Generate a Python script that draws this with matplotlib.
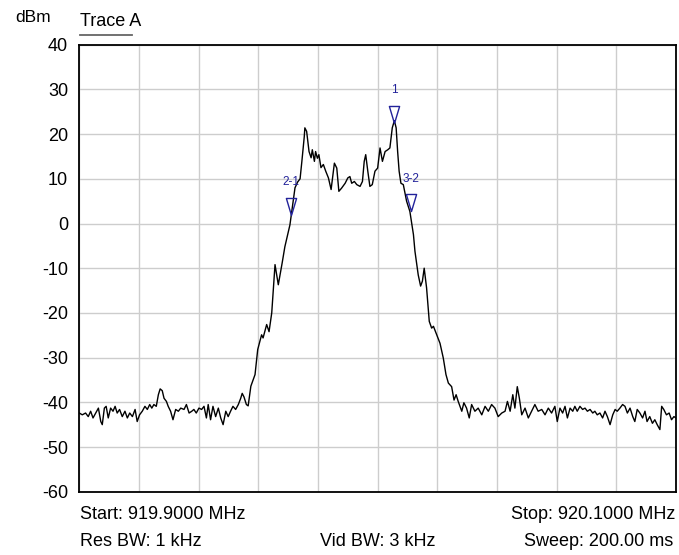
import matplotlib
matplotlib.use("Agg")
import matplotlib.pyplot as plt
from matplotlib.path import Path
import numpy as np

plt.rcParams['font.family'] = ['Liberation Sans', 'DejaVu Sans']

# ---- data ----
start_mhz = 919.9
stop_mhz = 920.1
offset_khz = [
    0.0, 1.0, 2.1, 3.0, 3.8, 4.6, 5.5, 6.4, 7.2, 7.7, 8.4, 9.0, 9.7, 10.5, 11.3, 12.0,
    12.7, 13.5, 14.4, 15.3, 16.1, 16.9, 17.8, 18.7, 19.4, 20.2, 21.1, 22.0, 22.8, 23.6,
    24.3, 25.0, 25.8, 26.5, 27.1, 27.8, 28.4, 29.2, 29.8, 30.6, 31.4, 32.3, 33.2, 34.0,
    35.1, 35.9, 36.8, 37.7, 38.4, 39.2, 40.1, 41.0, 41.8, 42.6, 43.2, 44.0, 44.8, 45.7,
    46.6, 47.4, 48.2, 49.1, 49.9, 50.7, 51.5, 52.4, 53.3, 54.1, 54.6, 55.2, 56.0, 56.6,
    57.5, 58.9, 59.8, 61.1, 61.6, 62.8, 63.6, 64.5, 65.6, 66.7, 68.0, 68.9, 70.6, 72.3,
    73.2, 74.0, 74.6, 75.4, 75.6, 76.2, 77.0, 77.7, 78.1, 78.8, 79.2, 79.8, 80.3, 81.0,
    81.8, 82.6, 83.5, 84.4, 85.5, 86.3, 87.0, 87.9, 89.1, 90.0, 90.7, 91.3, 92.2, 93.0,
    94.1, 94.9, 95.5, 96.0, 96.7, 97.4, 98.2, 99.1, 100.0, 100.8, 101.6, 102.5, 103.4,
    104.1, 104.9, 105.6, 106.2, 106.7, 107.2, 107.8, 108.6, 109.7, 110.8, 112.0, 112.5,
    113.6, 114.4, 115.0, 115.6, 116.4, 117.3, 118.1, 118.7, 119.8, 120.9, 122.0, 122.9,
    123.7, 124.8, 125.6, 126.3, 127.0, 128.2, 128.9, 129.8, 130.7, 131.5, 132.6, 133.7,
    134.9, 136.0, 137.1, 138.2, 139.3, 140.4, 141.6, 142.7, 143.5, 144.4, 145.3, 146.0,
    146.8, 147.5, 148.3, 149.4, 150.5, 151.6, 152.7, 153.8, 155.0, 156.1, 157.2, 158.3,
    159.4, 160.2, 161.1, 162.0, 162.8, 163.6, 164.5, 165.4, 166.1, 166.9, 167.8, 168.7,
    169.5, 170.3, 171.2, 172.1, 172.8, 173.6, 174.5, 175.4, 176.2, 177.0, 177.9, 178.8,
    179.6, 180.3, 181.2, 182.1, 182.9, 183.7, 184.6, 185.5, 186.2, 187.0, 187.9, 188.8,
    189.6, 190.3, 191.2, 192.1, 192.9, 193.7, 194.6, 195.2, 195.9, 196.8, 197.7, 198.5,
    199.3, 200.0]
level_dbm = [
    -42.4, -42.8, -42.4, -43.2, -42.0, -43.5, -42.4, -41.3, -44.3, -45.0, -41.3, -40.9,
    -43.5, -41.3, -42.0, -40.9, -42.4, -41.6, -43.2, -42.0, -43.5, -42.4, -43.2, -41.6,
    -44.3, -42.8, -42.0, -40.9, -41.6, -40.5, -41.3, -40.5, -40.9, -38.3, -37.0, -37.4,
    -39.1, -39.8, -40.9, -42.0, -43.9, -41.6, -42.0, -41.3, -41.6, -40.5, -42.4, -42.0,
    -41.6, -42.4, -41.3, -41.6, -40.9, -43.5, -40.5, -43.9, -40.9, -43.2, -41.3, -43.5,
    -45.0, -42.0, -43.2, -42.0, -40.9, -41.6, -40.5, -39.1, -38.0, -38.8, -40.5, -40.8,
    -36.4, -33.8, -28.2, -24.9, -25.6, -22.6, -24.2, -20.0, -9.2, -13.7, -8.8, -5.2,
    -0.3, 8.0, 9.3, 10.0, 13.9, 19.4, 21.4, 20.6, 16.1, 14.7, 16.5, 13.9, 16.1, 14.6,
    15.4, 12.5, 13.2, 11.7, 10.2, 7.6, 13.5, 12.4, 7.2, 7.9, 9.0, 10.2, 10.5, 9.0, 9.4,
    8.7, 8.3, 9.4, 13.9, 15.4, 11.7, 8.3, 8.7, 11.7, 12.4, 16.9, 13.9, 16.1, 16.5, 16.9,
    21.4, 23.0, 21.4, 16.1, 11.7, 9.0, 8.7, 5.0, 2.7, -2.5, -6.2, -11.5, -14.0, -12.9,
    -10.0, -14.4, -21.9, -23.4, -23.0, -24.9, -26.8, -30.1, -33.8, -35.7, -36.5, -39.5,
    -38.3, -39.8, -42.0, -40.1, -41.3, -43.5, -40.5, -42.0, -41.3, -42.8, -40.9, -42.0,
    -40.5, -41.3, -43.2, -42.4, -42.0, -39.8, -42.0, -38.3, -41.3, -36.5, -39.1, -42.8,
    -41.3, -43.5, -42.0, -40.5, -42.0, -41.6, -42.8, -41.3, -42.4, -40.9, -44.3, -41.3,
    -42.4, -40.9, -43.5, -41.3, -42.0, -40.9, -42.0, -40.9, -41.6, -41.3, -42.0, -41.6,
    -42.4, -42.0, -42.8, -42.4, -43.5, -42.0, -43.2, -45.0, -42.8, -41.6, -42.0, -41.3,
    -40.5, -40.9, -42.4, -41.3, -43.2, -44.3, -41.6, -42.4, -43.5, -42.0, -44.3, -43.2,
    -44.7, -43.9, -45.0, -46.1, -40.9, -41.6, -42.8, -42.4, -43.9, -43.2, -43.5]

marker_labels = ["2-1", "1", "3-2"]
marker_offset_khz = [70.9, 105.6, 111.1]
marker_level_dbm = [2.0, 22.5, 2.7]

y_ticks = [40, 30, 20, 10, 0, -10, -20, -30, -40, -50, -60]

# ---- plot ----
W, H = 679, 555
fig = plt.figure(figsize=(W / 100, H / 100), dpi=100)
L, R, T, B = 79.3, 676.0, 44.7, 491.7
ax = fig.add_axes([L / W, 1 - B / H, (R - L) / W, (B - T) / H])

freq = start_mhz + np.array(offset_khz) / 1000.0
ax.plot(freq, level_dbm, color='black', lw=1.0, zorder=3)

ax.set_xlim(start_mhz, stop_mhz)
ax.set_ylim(-60, 40)
ax.set_xticks(np.linspace(start_mhz, stop_mhz, 11))
ax.set_yticks(y_ticks)
ax.set_yticklabels([str(v) for v in y_ticks], fontsize=13)
ax.set_xticklabels([])
ax.tick_params(axis='both', length=0)
ax.tick_params(axis='y', pad=8)
ax.grid(True, color='#cdcdcd', lw=1.0, zorder=0)
for s in ax.spines.values():
    s.set_color('black')
    s.set_linewidth(1.3)

# delta markers (downward triangle, tip on the data point)
tri = Path([(-0.3, 1.0), (0.3, 1.0), (0.0, 0.0), (-0.3, 1.0)],
           [Path.MOVETO, Path.LINETO, Path.LINETO, Path.CLOSEPOLY])
mcol = '#22229a'
mfreq = start_mhz + np.array(marker_offset_khz) / 1000.0
ax.plot(mfreq, marker_level_dbm, linestyle='none', marker=tri, markersize=24.5,
        markerfacecolor='none', markeredgecolor=mcol, markeredgewidth=1.0, zorder=4)
for lab, fx, ly in zip(marker_labels, mfreq, marker_level_dbm):
    ax.annotate(lab, (fx, ly), xytext=(0, 23.5), textcoords='offset points',
                ha='center', va='center', fontsize=8.5, color=mcol, zorder=5)

# header texts
fig.text(51 / W, 1 - 18 / H, "dBm", ha='right', va='center', fontsize=12.5)
fig.text(80 / W, 1 - 22 / H, "Trace A", ha='left', va='center', fontsize=13)
fig.add_artist(plt.Line2D([80 / W, 132 / W], [1 - 35 / H, 1 - 35 / H],
                          color='#666666', lw=1.3))

# footer texts
fig.text(80 / W, 1 - 514.5 / H, "Start: 919.9000 MHz", ha='left', va='center', fontsize=13)
fig.text(675 / W, 1 - 514.5 / H, "Stop: 920.1000 MHz", ha='right', va='center', fontsize=13)
fig.text(80 / W, 1 - 541.5 / H, "Res BW: 1 kHz", ha='left', va='center', fontsize=13)
fig.text(377.5 / W, 1 - 541.5 / H, "Vid BW: 3 kHz", ha='center', va='center', fontsize=13)
fig.text(673 / W, 1 - 541.5 / H, "Sweep: 200.00 ms", ha='right', va='center', fontsize=13)

fig.savefig("out.png", dpi=100)
